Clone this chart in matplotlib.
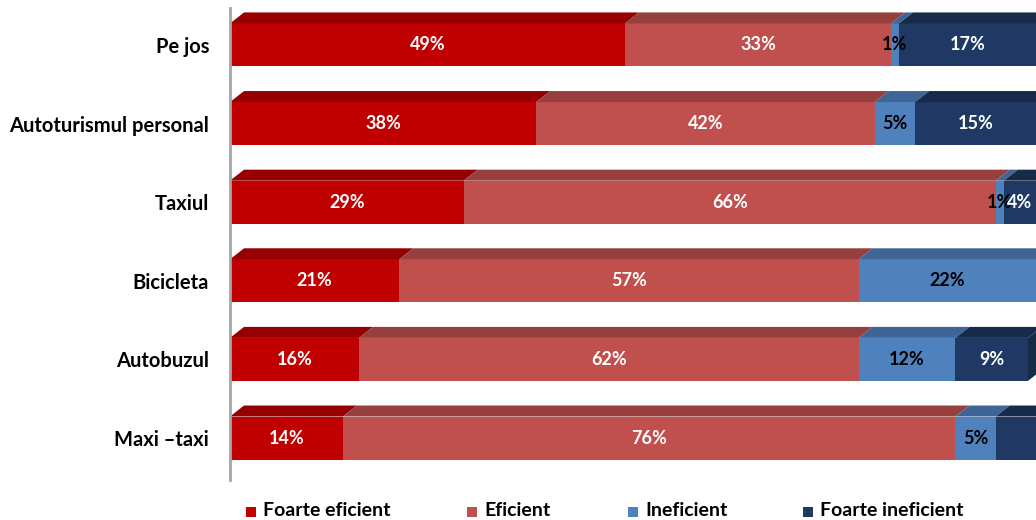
import numpy as np
import matplotlib.pyplot as plt
from matplotlib.patches import Polygon, Rectangle

plt.rcParams['font.family'] = ['Lato', 'DejaVu Sans']
plt.rcParams['font.weight'] = 'bold'

categories = ['Pe jos', 'Autoturismul personal', 'Taxiul', 'Bicicleta', 'Autobuzul', 'Maxi \u2013taxi']
series = ['Foarte eficient', 'Eficient', 'Ineficient', 'Foarte ineficient']
foarte_eficient = [49, 38, 29, 21, 16, 14]
eficient = [33, 42, 66, 57, 62, 76]
ineficient = [1, 5, 1, 22, 12, 5]
foarte_ineficient = [17, 15, 4, 0, 9, 5]
# Maxi-taxi last segment has no label in the original
show_label = [[True] * 4] * 5 + [[True, True, True, False]]

front = ['#C00000', '#C0504D', '#4F81BD', '#1F3864']
top = ['#960000', '#973F3D', '#3E6596', '#162A4A']
txt = ['white', 'white', 'black', 'white']

values = np.array([foarte_eficient, eficient, ineficient, foarte_ineficient], dtype=float)

fig = plt.figure(figsize=(10.36, 5.2), dpi=100)
ax = fig.add_axes([230 / 1036, 40 / 520, 1 - 230 / 1036, 472 / 520])

n = len(categories)
ypos = np.arange(n)[::-1].astype(float)
h = 0.547
dx = 1.74
dy = 0.14

left = np.zeros(n)
for s in range(len(series)):
    w = values[s]
    ax.barh(ypos, w, left=left, height=h, color=front[s], edgecolor='none', zorder=2)
    for i in range(n):
        if w[i] <= 0:
            continue
        yt = ypos[i] + h / 2
        x0, x1 = left[i], left[i] + w[i]
        ax.add_patch(Polygon([(x0, yt), (x1, yt), (x1 + dx, yt + dy), (x0 + dx, yt + dy)],
                             closed=True, facecolor=top[s], edgecolor='none', zorder=2))
        if show_label[i][s]:
            ax.text((x0 + x1) / 2, ypos[i], f'{int(w[i])}%', ha='center', va='center',
                    color=txt[s], fontsize=13, fontweight='bold', zorder=5 + s)
    left = left + w

# right side face of the bar ends
for i in range(n):
    last = max(s for s in range(len(series)) if values[s][i] > 0)
    x1 = left[i]
    yb, yt = ypos[i] - h / 2, ypos[i] + h / 2
    ax.add_patch(Polygon([(x1, yb), (x1 + dx, yb + dy), (x1 + dx, yt + dy), (x1, yt)],
                         closed=True, facecolor=top[last], edgecolor='none', zorder=2))

ax.set_xlim(0, 100)
ax.set_ylim(-0.534, 5.47)
ax.set_yticks(ypos)
ax.set_yticklabels(categories, fontsize=14.5, fontweight='bold')
ax.tick_params(axis='y', length=0, pad=15)
ax.set_xticks([])
for sp in ['top', 'right', 'bottom']:
    ax.spines[sp].set_visible(False)
ax.spines['left'].set_color('#A6A6A6')
ax.spines['left'].set_linewidth(2)

# legend along the bottom
leg_x = [246, 467, 628, 803]
for s in range(len(series)):
    fig.patches.append(Rectangle((leg_x[s] / 1036, 3 / 520), 10 / 1036, 10 / 520,
                                 transform=fig.transFigure, facecolor=front[s],
                                 edgecolor='none'))
    fig.text((leg_x[s] + 17) / 1036, 9 / 520, series[s], fontsize=14,
             fontweight='bold', va='center', ha='left')

fig.savefig('out.png', dpi=100)
